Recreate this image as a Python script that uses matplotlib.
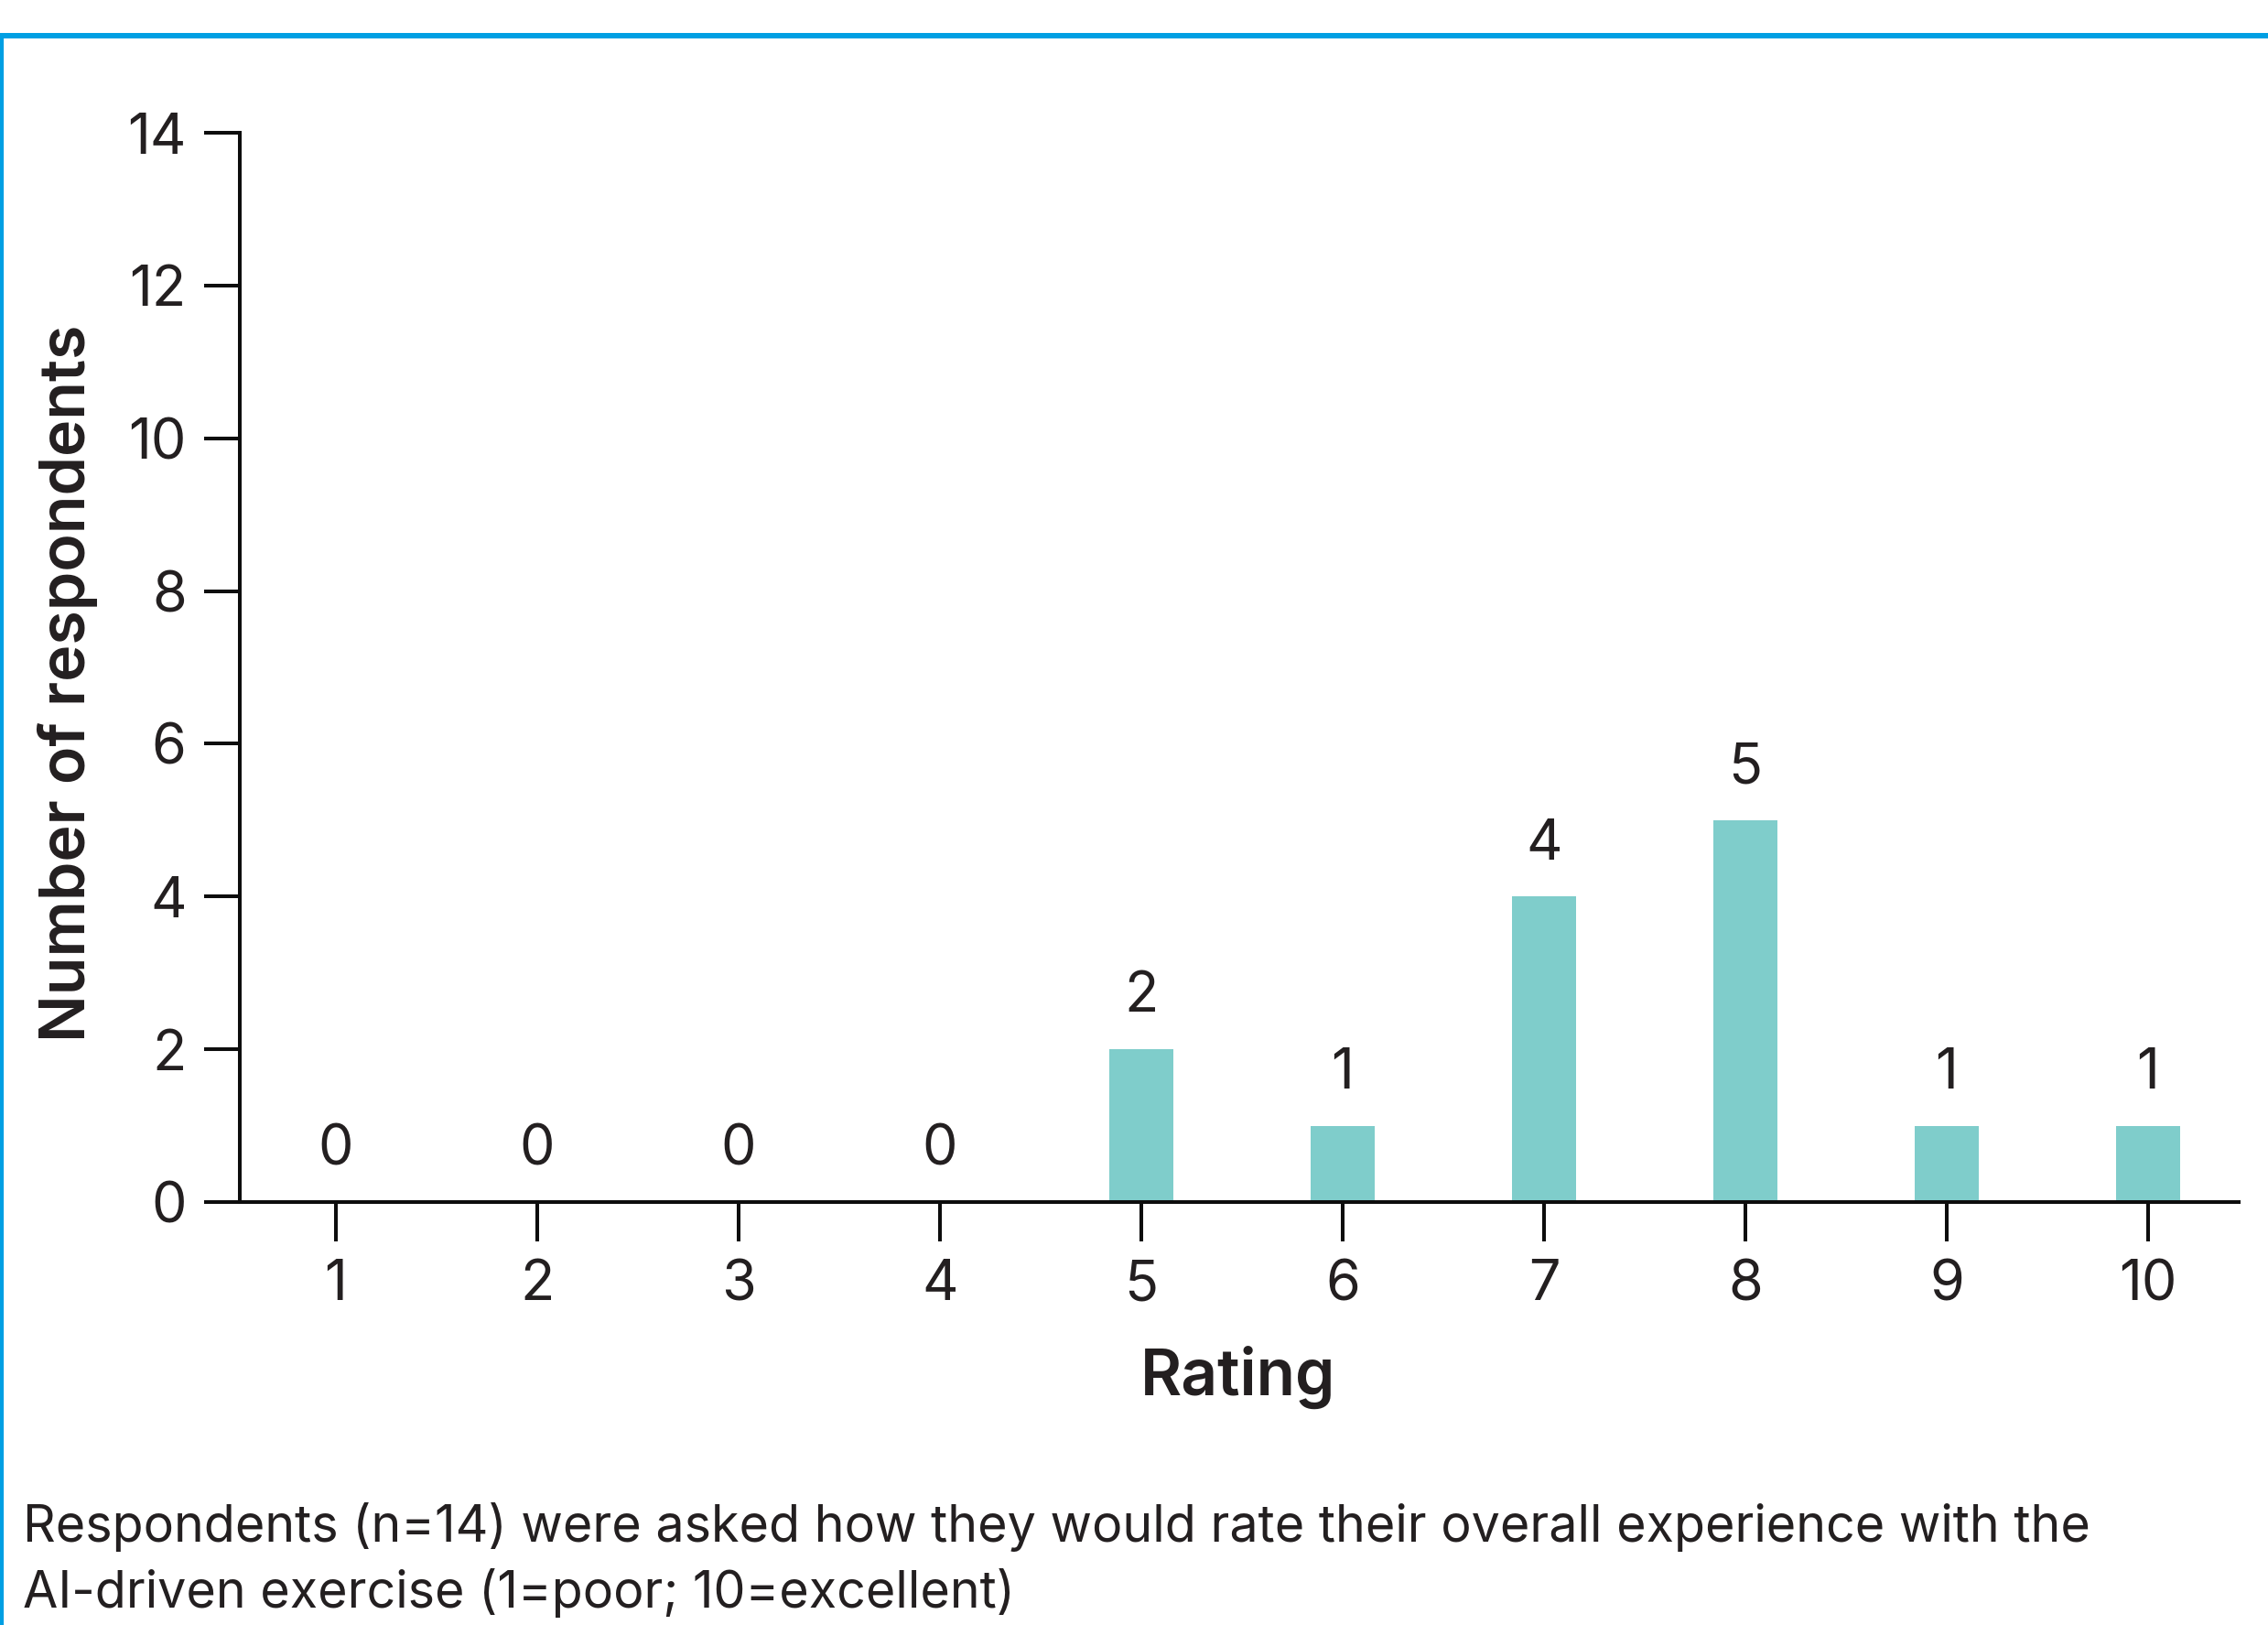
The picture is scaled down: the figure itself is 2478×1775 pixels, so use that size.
import matplotlib

matplotlib.use("Agg")
import matplotlib.pyplot as plt
from matplotlib.lines import Line2D

# survey answers: how many respondents gave each rating
ratings = [1, 2, 3, 4, 5, 6, 7, 8, 9, 10]
respondents = [0, 0, 0, 0, 2, 1, 4, 5, 1, 1]
y_ticks = [0, 2, 4, 6, 8, 10, 12, 14]

caption = (
    "Respondents (n=14) were asked how they would rate their overall experience with the\n"
    "AI-driven exercise (1=poor; 10=excellent)"
)

BAR_COLOR = "#7fcdcb"
TEXT_COLOR = "#231f20"
AXIS_COLOR = "#0d0d0d"
FRAME_COLOR = "#009fe3"

plt.rcParams["font.family"] = ["Inter", "DejaVu Sans"]

W, H, DPI = 2478, 1775, 100
fig = plt.figure(figsize=(W / DPI, H / DPI), dpi=DPI)
ax = fig.add_axes([262 / W, 1 - 1313 / H, (2446 - 262) / W, (1313 - 145) / H])

ax.bar(ratings, respondents, width=0.32, color=BAR_COLOR, zorder=2)

for x, v in zip(ratings, respondents):
    ax.annotate(str(v), (x, v), xytext=(0, 20), textcoords="offset points",
                ha="center", va="bottom", fontsize=44, color=TEXT_COLOR)

ax.set_xlim(0.523, 10.45)
ax.set_ylim(0, 14)
ax.set_xticks(ratings)
ax.set_yticks(y_ticks)

for side in ("top", "right"):
    ax.spines[side].set_visible(False)
for side in ("left", "bottom"):
    ax.spines[side].set_linewidth(2.9)
    ax.spines[side].set_color(AXIS_COLOR)
    ax.spines[side].set_zorder(3)

ax.tick_params(axis="y", length=28, width=2.9, color=AXIS_COLOR, pad=14,
               labelsize=44, labelcolor=TEXT_COLOR)
ax.tick_params(axis="x", length=31, width=2.9, color=AXIS_COLOR, pad=14,
               labelsize=44, labelcolor=TEXT_COLOR)

# axis titles placed in figure pixels
fig.text(1353 / W, 1 - 1504 / H, "Rating", fontsize=50, fontweight="semibold",
         color=TEXT_COLOR, ha="center", va="center")
fig.text(74 / W, 1 - 746 / H, "Number of respondents", fontsize=49, fontweight="semibold",
         color=TEXT_COLOR, ha="center", va="center", rotation=90)

fig.text(25 / W, 1 - 1704 / H, caption, fontsize=40, color=TEXT_COLOR,
         ha="left", va="center", linespacing=1.4)

# blue frame: top rule and left rule only
fig.add_artist(Line2D([0, 1], [1 - 39 / H, 1 - 39 / H], transform=fig.transFigure,
                      color=FRAME_COLOR, linewidth=4.3, solid_capstyle="butt"))
fig.add_artist(Line2D([2 / W, 2 / W], [0, 1 - 39 / H], transform=fig.transFigure,
                      color=FRAME_COLOR, linewidth=3.0, solid_capstyle="butt"))

fig.savefig("out.png", dpi=DPI)
